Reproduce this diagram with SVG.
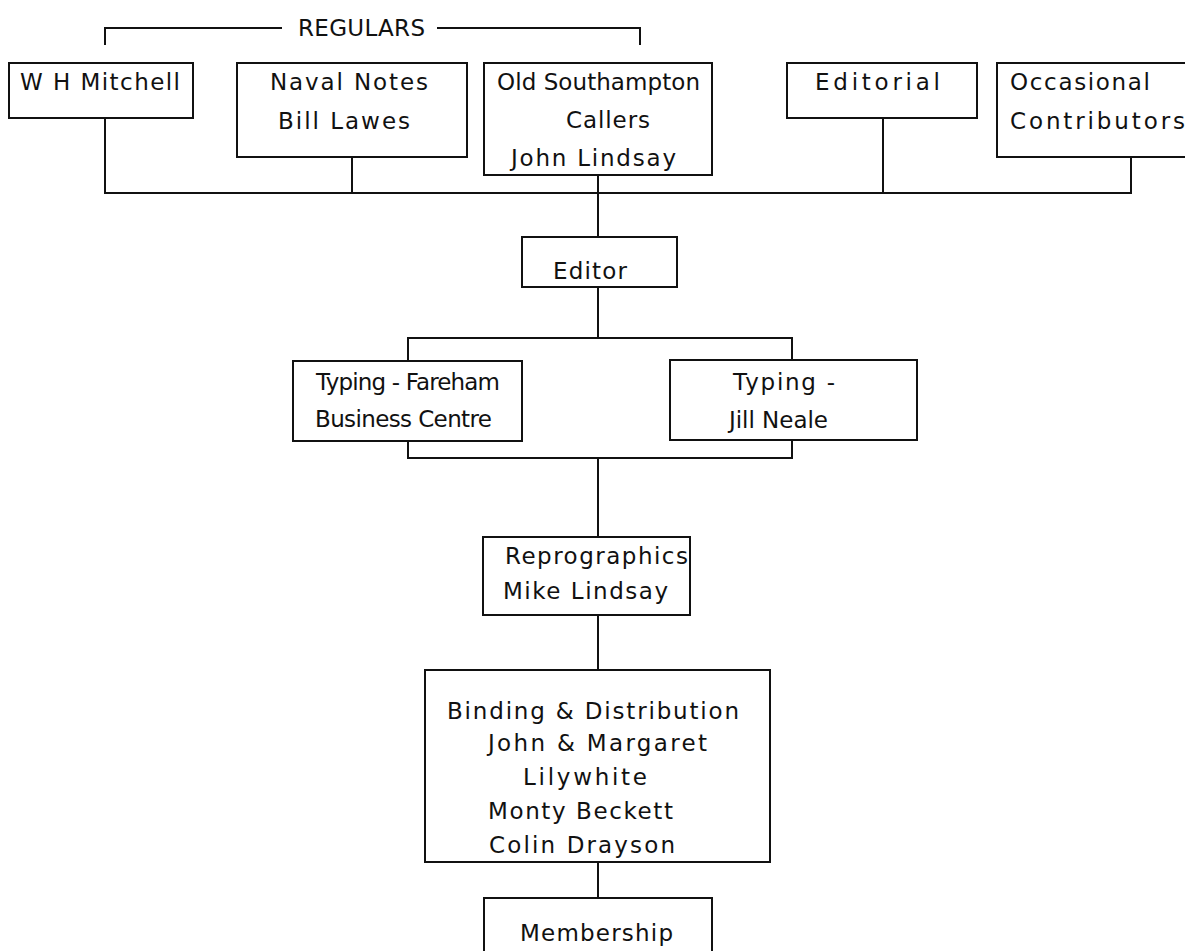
<svg xmlns="http://www.w3.org/2000/svg" width="1185" height="951" viewBox="0 0 1185 951">
<style>
.box{fill:#fff;stroke:#111;stroke-width:2}
.ln{fill:none;stroke:#111;stroke-width:2}
text{font-family:"DejaVu Sans","Liberation Sans",sans-serif;font-size:23px;fill:#111}
</style>
<rect width="1185" height="951" fill="#fff"/>
<g id="connectors">
<path class="ln" d="M105,45 V28 H282 M437,28 H640 V45"/>
<path class="ln" d="M105,118 V193 H1131 V157 M352,157 V193 M598,175 V237 M883,118 V193"/>
<path class="ln" d="M598,287 V338 M408,361 V338 H792 V360"/>
<path class="ln" d="M408,441 V458 H792 V440 M598,458 V537"/>
<path class="ln" d="M598,615 V670 M598,862 V898"/>
</g>
<text id="regulars" x="298" y="36" textLength="127" lengthAdjust="spacing">REGULARS</text>
<g id="wh-mitchell">
<rect class="box" x="9" y="63" width="184" height="55"/>
<text x="20" y="90" textLength="160" lengthAdjust="spacing">W H Mitchell</text>
</g>
<g id="naval-notes">
<rect class="box" x="237" y="63" width="230" height="94"/>
<text x="270" y="90" textLength="158" lengthAdjust="spacing">Naval  Notes</text>
<text x="278" y="129" textLength="132" lengthAdjust="spacing">Bill Lawes</text>
</g>
<g id="old-southampton">
<rect class="box" x="484" y="63" width="228" height="112"/>
<text x="497" y="90" textLength="203" lengthAdjust="spacing">Old Southampton</text>
<text x="566" y="128" textLength="84" lengthAdjust="spacing">Callers</text>
<text x="511" y="166" textLength="165" lengthAdjust="spacing">John Lindsay</text>
</g>
<g id="editorial">
<rect class="box" x="787" y="63" width="190" height="55"/>
<text x="815" y="90" textLength="125" lengthAdjust="spacing">Editorial</text>
</g>
<g id="occasional">
<rect class="box" x="997" y="63" width="200" height="94"/>
<text x="1010" y="90" textLength="140" lengthAdjust="spacing">Occasional</text>
<text x="1010" y="129" textLength="175" lengthAdjust="spacing">Contributors</text>
</g>
<g id="editor">
<rect class="box" x="522" y="237" width="155" height="50"/>
<text x="553" y="279" textLength="74" lengthAdjust="spacing">Editor</text>
</g>
<g id="typing-fareham">
<rect class="box" x="293" y="361" width="229" height="80"/>
<text x="316" y="390" textLength="184" lengthAdjust="spacing">Typing - Fareham</text>
<text x="315" y="427" textLength="177" lengthAdjust="spacing">Business Centre</text>
</g>
<g id="typing-jill">
<rect class="box" x="670" y="360" width="247" height="80"/>
<text x="733" y="390" textLength="102" lengthAdjust="spacing">Typing  -</text>
<text x="729" y="428" textLength="99" lengthAdjust="spacing">Jill Neale</text>
</g>
<g id="reprographics">
<rect class="box" x="483" y="537" width="207" height="78"/>
<text x="505" y="564" textLength="183" lengthAdjust="spacing">Reprographics</text>
<text x="503" y="599" textLength="165" lengthAdjust="spacing">Mike Lindsay</text>
</g>
<g id="binding">
<rect class="box" x="425" y="670" width="345" height="192"/>
<text x="447" y="719" textLength="292" lengthAdjust="spacing">Binding &amp; Distribution</text>
<text x="488" y="751" textLength="219" lengthAdjust="spacing">John  &amp; Margaret</text>
<text x="523" y="785" textLength="124" lengthAdjust="spacing">Lilywhite</text>
<text x="488" y="819" textLength="185" lengthAdjust="spacing">Monty Beckett</text>
<text x="489" y="853" textLength="186" lengthAdjust="spacing">Colin  Drayson</text>
</g>
<g id="membership">
<rect class="box" x="484" y="898" width="228" height="70"/>
<text x="520" y="941" textLength="153" lengthAdjust="spacing">Membership</text>
</g>
</svg>
